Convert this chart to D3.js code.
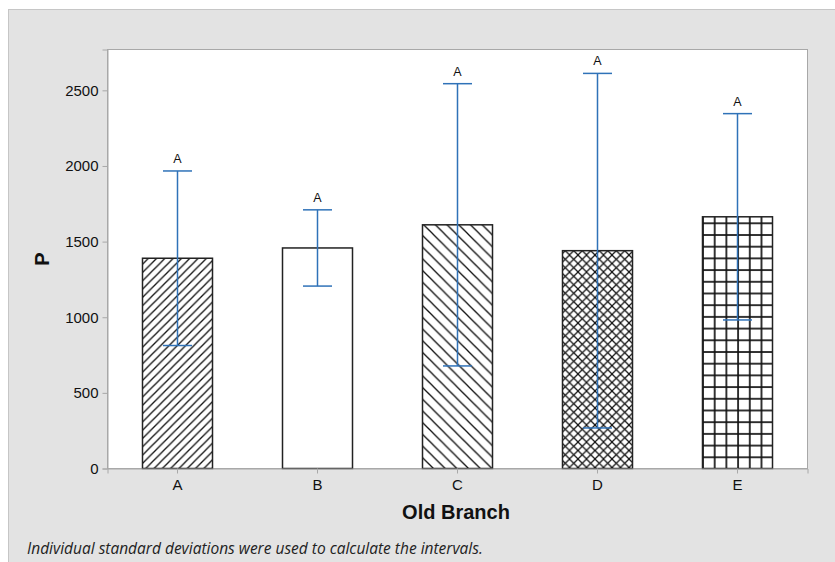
<!DOCTYPE html>
<html lang="en">
<head>
<meta charset="UTF-8">
<title>Old Branch interval plot</title>
<script src="https://cdn.jsdelivr.net/npm/d3@7"></script>
<style>
  body { margin: 0; background: #fff; }
  svg { display: block; }
</style>
</head>
<body>
<script>
// data
var branches = ["A", "B", "C", "D", "E"];
var means = [1390, 1458, 1611, 1440, 1664];
var halfWidths = [577, 252, 933, 1172, 682];
var groupLetters = ["A", "A", "A", "A", "A"];
var yTicks = [0, 500, 1000, 1500, 2000, 2500];
var patterns = ["fwd", "none", "back", "cross", "grid"];

var W = 835, H = 562;
var margin = { left: 107.5, top: 49.5, right: 27.5, bottom: 93.5 };
var sans = "Liberation Sans, Arial, sans-serif";

var svg = d3.select("body").append("svg")
    .attr("width", W)
    .attr("height", H);

// outer grey panel
svg.append("rect")
    .attr("x", 8.5).attr("y", 9.5)
    .attr("width", W).attr("height", H)
    .attr("fill", "#e3e3e3")
    .attr("stroke", "#c6c6c6");

var x = d3.scaleBand()
    .domain(branches)
    .range([margin.left, W - margin.right])
    .paddingInner(0.5)
    .paddingOuter(0.25);

var y = d3.scaleLinear()
    .domain([0, 2770])
    .range([H - margin.bottom, margin.top]);

// hatch patterns
var defs = svg.append("defs");
function hatch(id, size, draw) {
    var p = defs.append("pattern")
        .attr("id", id)
        .attr("patternUnits", "userSpaceOnUse")
        .attr("width", size).attr("height", size);
    p.append("rect").attr("width", size).attr("height", size).attr("fill", "#fff");
    draw(p, size);
}
function line(p, x1, y1, x2, y2, w) {
    p.append("line")
        .attr("x1", x1).attr("y1", y1).attr("x2", x2).attr("y2", y2)
        .attr("stroke", "#111").attr("stroke-width", w);
}
hatch("fwd", 8.3, function(p, s) {
    line(p, -1, s + 1, s + 1, -1, 1.3);
    line(p, -1, 1, 1, -1, 1.3);
    line(p, s - 1, s + 1, s + 1, s - 1, 1.3);
});
hatch("back", 11.7, function(p, s) {
    line(p, -1, -1, s + 1, s + 1, 1.3);
    line(p, s - 1, -1, s + 1, 1, 1.3);
    line(p, -1, s - 1, 1, s + 1, 1.3);
});
hatch("cross", 8.5, function(p, s) {
    line(p, -1, s + 1, s + 1, -1, 1.2);
    line(p, -1, -1, s + 1, s + 1, 1.2);
    line(p, -1, 1, 1, -1, 1.2);
    line(p, s - 1, s + 1, s + 1, s - 1, 1.2);
    line(p, s - 1, -1, s + 1, 1, 1.2);
    line(p, -1, s - 1, 1, s + 1, 1.2);
});
hatch("grid", 11.7, function(p, s) {
    line(p, 0, 1, s, 1, 1.7);
    line(p, 1, 0, 1, s, 1.7);
});

// plot area
var plot = svg.append("g");
plot.append("rect")
    .attr("x", margin.left).attr("y", margin.top)
    .attr("width", W - margin.left - margin.right)
    .attr("height", H - margin.top - margin.bottom)
    .attr("fill", "#fff")
    .attr("stroke", "#a8a8a8");

// bars
plot.selectAll("rect.bar")
    .data(branches)
    .enter().append("rect")
    .attr("class", "bar")
    .attr("x", function(d) { return x(d); })
    .attr("width", x.bandwidth())
    .attr("y", function(d, i) { return y(means[i]); })
    .attr("height", function(d, i) { return y(0) - y(means[i]); })
    .attr("fill", function(d, i) { return patterns[i] == "none" ? "#fff" : "url(#" + patterns[i] + ")"; })
    .attr("stroke", "#222")
    .attr("stroke-width", 1.5);

// intervals
var blue = "#2f72b8";
var cap = 14.5;
var errs = plot.selectAll("g.err")
    .data(branches)
    .enter().append("g")
    .attr("class", "err");
errs.append("line")
    .attr("x1", function(d) { return x(d) + x.bandwidth() / 2; })
    .attr("x2", function(d) { return x(d) + x.bandwidth() / 2; })
    .attr("y1", function(d, i) { return y(means[i] + halfWidths[i]); })
    .attr("y2", function(d, i) { return y(means[i] - halfWidths[i]); })
    .attr("stroke", blue).attr("stroke-width", 1.5);
errs.append("line")
    .attr("x1", function(d) { return x(d) + x.bandwidth() / 2 - cap; })
    .attr("x2", function(d) { return x(d) + x.bandwidth() / 2 + cap; })
    .attr("y1", function(d, i) { return y(means[i] + halfWidths[i]); })
    .attr("y2", function(d, i) { return y(means[i] + halfWidths[i]); })
    .attr("stroke", blue).attr("stroke-width", 1.5);
errs.append("line")
    .attr("x1", function(d) { return x(d) + x.bandwidth() / 2 - cap; })
    .attr("x2", function(d) { return x(d) + x.bandwidth() / 2 + cap; })
    .attr("y1", function(d, i) { return y(means[i] - halfWidths[i]); })
    .attr("y2", function(d, i) { return y(means[i] - halfWidths[i]); })
    .attr("stroke", blue).attr("stroke-width", 1.5);
errs.append("text")
    .attr("x", function(d) { return x(d) + x.bandwidth() / 2; })
    .attr("y", function(d, i) { return y(means[i] + halfWidths[i]) - 8; })
    .attr("text-anchor", "middle")
    .attr("font-family", sans)
    .attr("font-size", 12.5)
    .attr("fill", "#111")
    .text(function(d, i) { return groupLetters[i]; });

// axes
var yAxis = svg.append("g")
    .attr("transform", "translate(" + margin.left + ",0)")
    .call(d3.axisLeft(y).tickValues(yTicks).tickFormat(d3.format("d")).tickSize(5).tickPadding(4));
var xAxis = svg.append("g")
    .attr("transform", "translate(0," + y(0) + ")")
    .call(d3.axisBottom(x).tickSize(5).tickPadding(6));
yAxis.attr("font-size", 15).attr("font-family", sans);
xAxis.attr("font-size", 15).attr("font-family", sans);
yAxis.select(".domain").attr("stroke", "#a8a8a8");
xAxis.select(".domain").attr("stroke", "#a8a8a8");
yAxis.selectAll(".tick line").attr("stroke", "#a8a8a8");
xAxis.selectAll(".tick line").attr("stroke", "#a8a8a8");
yAxis.selectAll(".tick text").attr("fill", "#111");
xAxis.selectAll(".tick text").attr("fill", "#111");

// titles
svg.append("text")
    .attr("x", 456).attr("y", 519)
    .attr("text-anchor", "middle")
    .attr("font-family", sans)
    .attr("font-weight", "bold")
    .attr("font-size", 20)
    .attr("fill", "#111")
    .text("Old Branch");
svg.append("text")
    .attr("transform", "translate(49,259) rotate(-90)")
    .attr("text-anchor", "middle")
    .attr("font-family", sans)
    .attr("font-weight", "bold")
    .attr("font-size", 20)
    .attr("fill", "#111")
    .text("P");

svg.append("text")
    .attr("x", 27).attr("y", 554)
    .attr("font-family", "Open Sans, sans-serif")
    .attr("font-style", "italic")
    .attr("font-size", 15.5)
    .attr("fill", "#222")
    .text("Individual standard deviations were used to calculate the intervals.");
</script>
</body>
</html>
